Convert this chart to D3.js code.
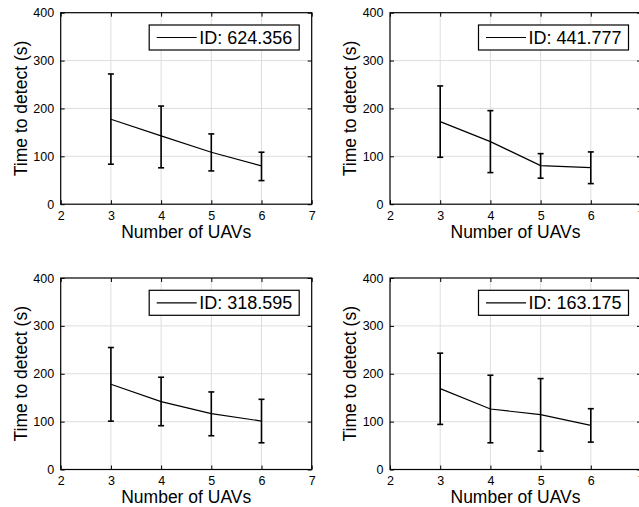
<!DOCTYPE html>
<html>
<head>
<meta charset="utf-8">
<script src="https://cdn.jsdelivr.net/npm/d3@7"></script>
<style>
  body { margin: 0; background: #fff; }
  svg { display: block; font-family: "Liberation Sans", Arial, sans-serif; }
</style>
</head>
<body>
<svg id="chart" width="639" height="507"></svg>
<script>
const uavCounts = [3, 4, 5, 6];
const xTicks = [2, 3, 4, 5, 6, 7];
const yTicks = [0, 100, 200, 300, 400];
const panelIds = ['ID: 624.356', 'ID: 441.777', 'ID: 318.595', 'ID: 163.175'];
// mean time to detect per panel
const meanValues = [
  [177.5, 142.6, 108.6, 80],
  [172.4, 130.7, 80.6, 76.4],
  [178, 141.7, 116.6, 101.2],
  [169, 126.4, 114.5, 92.1]
];
const upperValues = [
  [272, 205, 146.8, 108.6],
  [247, 195.4, 105.6, 109.2],
  [254.8, 192.7, 162, 146.6],
  [243, 196.9, 189.9, 127]
];
const lowerValues = [
  [83.5, 76, 69.5, 49.3],
  [98, 66, 54.3, 43],
  [101, 91.5, 70.5, 55.8],
  [94.2, 55.8, 38.4, 57.2]
];

const svg = d3.select('#chart');
const plotW = 251, plotH = 191.5;
const origins = [[60.7, 12.7], [390, 12.7], [60.7, 278], [390, 278]];

panelIds.forEach((label, i) => {
  const [ox, oy] = origins[i];
  const g = svg.append('g').attr('transform', `translate(${ox},${oy})`);
  const x = d3.scaleLinear().domain([2, 7]).range([0, plotW]);
  const y = d3.scaleLinear().domain([0, 400]).range([plotH, 0]);

  // grid
  g.append('g').selectAll('line').data(xTicks.slice(1, -1)).join('line')
    .attr('x1', d => x(d)).attr('x2', d => x(d))
    .attr('y1', 0).attr('y2', plotH)
    .attr('stroke', '#dedede').attr('stroke-width', 1);
  g.append('g').selectAll('line').data(yTicks.slice(1, -1)).join('line')
    .attr('y1', d => y(d)).attr('y2', d => y(d))
    .attr('x1', 0).attr('x2', plotW)
    .attr('stroke', '#dedede').attr('stroke-width', 1);

  // axes with inward ticks, box style
  const styleAxis = sel => {
    sel.select('.domain').remove();
    sel.selectAll('text').attr('font-size', 12.5).attr('fill', '#000')
      .attr('font-family', '"Liberation Sans", Arial, sans-serif');
    sel.selectAll('line').attr('stroke', '#000');
  };
  g.append('g').attr('transform', `translate(0,${plotH})`)
    .call(d3.axisBottom(x).tickValues(xTicks).tickFormat(d3.format('d')).tickSizeInner(-4).tickPadding(7))
    .call(styleAxis);
  g.append('g')
    .call(d3.axisTop(x).tickValues(xTicks).tickFormat('').tickSizeInner(-4))
    .call(styleAxis);
  g.append('g')
    .call(d3.axisLeft(y).tickValues(yTicks).tickSizeInner(-4).tickPadding(6.5))
    .call(styleAxis);
  g.append('g').attr('transform', `translate(${plotW},0)`)
    .call(d3.axisRight(y).tickValues(yTicks).tickFormat('').tickSizeInner(-4))
    .call(styleAxis);

  g.append('rect').attr('width', plotW).attr('height', plotH)
    .attr('fill', 'none').attr('stroke', '#000').attr('stroke-width', 1.2);

  const rows = uavCounts.map((n, k) => ({
    n, mean: meanValues[i][k], hi: upperValues[i][k], lo: lowerValues[i][k]
  }));

  // error bars
  const eb = g.append('g').attr('stroke', '#000').attr('stroke-width', 1.6);
  eb.selectAll('.v').data(rows).join('line').attr('class', 'v')
    .attr('x1', d => x(d.n)).attr('x2', d => x(d.n))
    .attr('y1', d => y(d.hi)).attr('y2', d => y(d.lo));
  eb.selectAll('.t').data(rows).join('line').attr('class', 't')
    .attr('x1', d => x(d.n) - 3).attr('x2', d => x(d.n) + 3)
    .attr('y1', d => y(d.hi)).attr('y2', d => y(d.hi));
  eb.selectAll('.b').data(rows).join('line').attr('class', 'b')
    .attr('x1', d => x(d.n) - 3).attr('x2', d => x(d.n) + 3)
    .attr('y1', d => y(d.lo)).attr('y2', d => y(d.lo));

  g.append('path').datum(rows)
    .attr('d', d3.line().x(d => x(d.n)).y(d => y(d.mean)))
    .attr('fill', 'none').attr('stroke', '#000').attr('stroke-width', 1.2);

  // legend
  const lg = g.append('g').attr('transform', `translate(${plotW - 162.5},12.3)`);
  lg.append('rect').attr('width', 150).attr('height', 25)
    .attr('fill', '#fff').attr('stroke', '#000').attr('stroke-width', 1.2);
  lg.append('line').attr('x1', 7.5).attr('x2', 47.5).attr('y1', 12.5).attr('y2', 12.5)
    .attr('stroke', '#000').attr('stroke-width', 1.2);
  lg.append('text').attr('x', 50).attr('y', 18.8).attr('font-size', 18).text(label);

  // axis titles
  g.append('text').attr('x', plotW / 2).attr('y', plotH + 33.5)
    .attr('text-anchor', 'middle').attr('font-size', 17.5).text('Number of UAVs');
  g.append('text').attr('transform', `translate(-33.7,${plotH / 2}) rotate(-90)`)
    .attr('text-anchor', 'middle').attr('font-size', 17.5).text('Time to detect (s)');
});
</script>
</body>
</html>
